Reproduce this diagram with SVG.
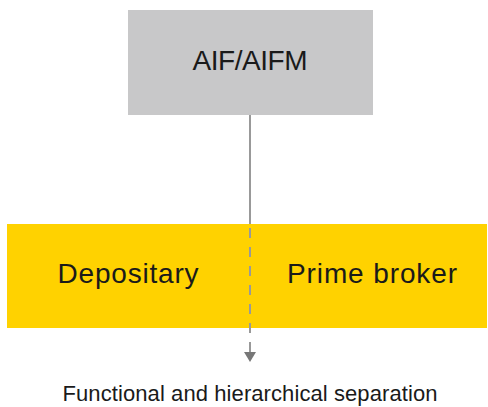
<svg xmlns="http://www.w3.org/2000/svg" width="488" height="407" viewBox="0 0 488 407">
<style>
.lbl{font-family:"Liberation Sans",Arial,sans-serif;fill:#1a1a1a;text-anchor:middle}
.big{font-size:28px}
.cap{font-size:22px}
.conn{stroke:#999999;stroke-width:2;fill:none}
</style>
<rect width="488" height="407" fill="#ffffff"/>
<g id="node-aif">
<rect x="128" y="10" width="245" height="105" fill="#c8c8c9"/>
<text class="lbl big" x="250" y="70" textLength="115">AIF/AIFM</text>
</g>
<g id="node-split">
<rect x="7" y="224" width="480" height="104" fill="#ffd200"/>
</g>
<g id="node-depositary">
<text class="lbl big" x="128" y="283" textLength="141">Depositary</text>
</g>
<g id="node-prime">
<text class="lbl big" x="372" y="283" textLength="170">Prime broker</text>
</g>
<g id="connectors">
<line class="conn" x1="250" y1="115" x2="250" y2="224"/>
<line class="conn" x1="250" y1="228" x2="250" y2="352" stroke-dasharray="10 9"/>
<path d="M244,352 L256,352 L250,362 Z" fill="#777777"/>
</g>
<g id="caption">
<text class="lbl cap" x="250" y="401" textLength="375">Functional and hierarchical separation</text>
</g>
</svg>
